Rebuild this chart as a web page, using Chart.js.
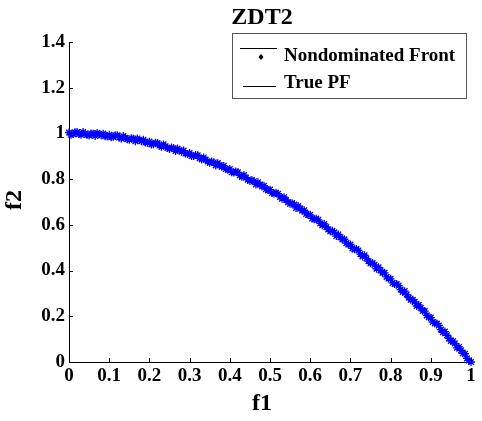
<!DOCTYPE html>
<html><head><meta charset="utf-8">
<script src="https://cdn.jsdelivr.net/npm/chart.js@4.4.1/dist/chart.umd.min.js"></script>
<style>html,body{margin:0;padding:0;background:#fff}#wrap{width:482px;height:421px;position:relative}</style>
</head><body><div id="wrap"><canvas id="c" width="482" height="421"></canvas></div>
<script>
const chartTitle = 'ZDT2';
const xAxisTitle = 'f1';
const yAxisTitle = 'f2';
const seriesNames = ['Nondominated Front', 'True PF'];
const xTickValues = [0, 0.1, 0.2, 0.3, 0.4, 0.5, 0.6, 0.7, 0.8, 0.9, 1];
const xTickLabels = ['0', '0.1', '0.2', '0.3', '0.4', '0.5', '0.6', '0.7', '0.8', '0.9', '1'];
const yTickValues = [0, 0.2, 0.4, 0.6, 0.8, 1, 1.2, 1.4];
const yTickLabels = ['0', '0.2', '0.4', '0.6', '0.8', '1', '1.2', '1.4'];

const frontF1 = [0.00,0.01,0.02,0.03,0.04,0.05,0.06,0.07,0.08,0.09,
  0.10,0.11,0.12,0.13,0.14,0.15,0.16,0.17,0.18,0.19,
  0.20,0.21,0.22,0.23,0.24,0.25,0.26,0.27,0.28,0.29,
  0.30,0.31,0.32,0.33,0.34,0.35,0.36,0.37,0.38,0.39,
  0.40,0.41,0.42,0.43,0.44,0.45,0.46,0.47,0.48,0.49,
  0.50,0.51,0.52,0.53,0.54,0.55,0.56,0.57,0.58,0.59,
  0.60,0.61,0.62,0.63,0.64,0.65,0.66,0.67,0.68,0.69,
  0.70,0.71,0.72,0.73,0.74,0.75,0.76,0.77,0.78,0.79,
  0.80,0.81,0.82,0.83,0.84,0.85,0.86,0.87,0.88,0.89,
  0.90,0.91,0.92,0.93,0.94,0.95,0.96,0.97,0.98,0.99,1.00,
  0.005,0.015,0.025,0.035,0.045,0.055,0.065,0.075,0.085,0.095,
  0.105,0.115,0.125,0.135,0.145,0.155,0.165,0.175,0.185,0.195,
  0.205,0.215,0.225,0.235,0.245,0.255,0.265,0.275,0.285,0.295,
  0.305,0.315,0.325,0.335,0.345,0.355,0.365,0.375,0.385,0.395,
  0.405,0.415,0.425,0.435,0.445,0.455,0.465,0.475,0.485,0.495,
  0.505,0.515,0.525,0.535,0.545,0.555,0.565,0.575,0.585,0.595,
  0.605,0.615,0.625,0.635,0.645,0.655,0.665,0.675,0.685,0.695,
  0.705,0.715,0.725,0.735,0.745,0.755,0.765,0.775,0.785,0.795,
  0.805,0.815,0.825,0.835,0.845,0.855,0.865,0.875,0.885,0.895,
  0.905,0.915,0.925,0.935,0.945,0.955,0.965,0.975,0.985,0.995];
const frontF2 = [1.004,0.997,1.006,0.994,0.999,0.991,0.999,1.002,0.992,0.988,
  0.994,0.985,0.992,0.978,0.981,0.972,0.977,0.978,0.966,0.960,
  0.964,0.953,0.958,0.942,0.944,0.932,0.935,0.934,0.920,0.912,
  0.914,0.901,0.904,0.886,0.885,0.872,0.873,0.870,0.854,0.844,
  0.844,0.829,0.830,0.810,0.807,0.792,0.791,0.786,0.768,0.756,
  0.754,0.737,0.736,0.714,0.709,0.692,0.689,0.682,0.662,0.648,
  0.644,0.625,0.622,0.598,0.591,0.572,0.567,0.558,0.536,0.520,
  0.514,0.493,0.488,0.462,0.453,0.432,0.425,0.414,0.390,0.372,
  0.364,0.341,0.334,0.306,0.295,0.272,0.263,0.250,0.224,0.204,
  0.194,0.169,0.160,0.130,0.117,0.092,0.081,0.066,0.038,0.016,0.000,
  0.994,1.005,0.997,1.006,0.994,1.000,0.989,0.996,0.999,0.988,
  0.983,0.992,0.982,0.989,0.975,0.979,0.966,0.971,0.972,0.959,
  0.952,0.959,0.947,0.952,0.936,0.938,0.923,0.926,0.925,0.910,
  0.901,0.906,0.892,0.895,0.877,0.877,0.860,0.861,0.858,0.841,
  0.830,0.833,0.817,0.818,0.798,0.796,0.777,0.776,0.771,0.752,
  0.739,0.740,0.722,0.721,0.699,0.695,0.674,0.671,0.664,0.643,
  0.628,0.627,0.607,0.604,0.580,0.574,0.551,0.546,0.537,0.514,
  0.497,0.494,0.472,0.467,0.441,0.433,0.408,0.401,0.390,0.365,
  0.346,0.341,0.317,0.310,0.282,0.272,0.245,0.236,0.223,0.196,
  0.175,0.168,0.142,0.133,0.103,0.091,0.062,0.051,0.036,0.007];

const truePfF1 = [0,0.05,0.1,0.15,0.2,0.25,0.3,0.35,0.4,0.45,0.5,0.55,0.6,0.65,0.7,0.75,0.8,0.85,0.9,0.95,1];
const truePfF2 = [1,0.9975,0.99,0.9775,0.96,0.9375,0.91,0.8775,0.84,0.7975,0.75,0.6975,0.64,0.5775,0.51,0.4375,0.36,0.2775,0.19,0.0975,0];

const FONT = "'Liberation Serif', 'Times New Roman', serif";
const tickFont = {family: FONT, size: 19, weight: 'bold'};

const overlay = {
  id: 'overlay',
  afterDraw(chart) {
    const ctx = chart.ctx;
    const xs = chart.scales.x, ys = chart.scales.y;
    const a = chart.chartArea;
    ctx.save();
    ctx.strokeStyle = '#000';
    ctx.lineWidth = 1;
    ctx.beginPath();
    xTickValues.forEach(v => {
      const px = Math.round(xs.getPixelForValue(v)) + 0.5;
      ctx.moveTo(px, a.bottom); ctx.lineTo(px, a.bottom - 4);
    });
    yTickValues.forEach(v => {
      const py = Math.round(ys.getPixelForValue(v)) + 0.5;
      ctx.moveTo(a.left, py); ctx.lineTo(a.left + 4, py);
    });
    ctx.stroke();

    ctx.fillStyle = '#000';
    ctx.textAlign = 'center';
    ctx.textBaseline = 'middle';
    ctx.font = "bold 24px " + FONT;
    ctx.fillText(chartTitle, 262, 18);
    ctx.fillText(xAxisTitle, 262, 404);
    ctx.save();
    ctx.translate(15, 200);
    ctx.rotate(-Math.PI / 2);
    ctx.fillText(yAxisTitle, 0, 0);
    ctx.restore();

    // legend
    ctx.fillStyle = '#fff';
    ctx.fillRect(232, 33, 234, 65);
    ctx.strokeStyle = '#555';
    ctx.strokeRect(232.5, 33.5, 234, 65);
    ctx.strokeStyle = '#000';
    ctx.beginPath();
    ctx.moveTo(240, 48.5); ctx.lineTo(277, 48.5);
    ctx.moveTo(243, 86.5); ctx.lineTo(276, 86.5);
    ctx.stroke();
    ctx.fillStyle = '#000';
    ctx.beginPath();
    ctx.moveTo(261, 54); ctx.lineTo(263.5, 57); ctx.lineTo(261, 60); ctx.lineTo(258.5, 57); ctx.closePath();
    ctx.fill();
    ctx.textAlign = 'left';
    ctx.font = "bold 19px " + FONT;
    ctx.fillText(seriesNames[0], 284, 56);
    ctx.fillText(seriesNames[1], 284, 83);
    ctx.restore();
  }
};

new Chart(document.getElementById('c'), {
  type: 'scatter',
  data: {
    datasets: [
      {
        label: seriesNames[1],
        data: truePfF1.map((x, i) => ({x, y: truePfF2[i]})),
        showLine: true,
        borderColor: '#0000ff',
        borderWidth: 1,
        pointRadius: 0,
        clip: false,
        order: 2
      },
      {
        label: seriesNames[0],
        data: frontF1.map((x, i) => ({x, y: frontF2[i]})),
        pointStyle: 'star',
        pointRadius: 4,
        borderColor: '#0000ff',
        backgroundColor: '#0000ff',
        borderWidth: 1.3,
        clip: false,
        order: 1
      }
    ]
  },
  options: {
    responsive: false,
    animation: false,
    devicePixelRatio: 1,
    layout: {padding: {left: 0, right: 11, top: 42, bottom: 0}},
    plugins: {legend: {display: false}, title: {display: false}, tooltip: {enabled: false}},
    scales: {
      x: {
        type: 'linear', min: 0, max: 1,
        afterBuildTicks: s => { s.ticks = xTickValues.map(v => ({value: v})); },
        afterFit: s => { s.height = 59; },
        ticks: {callback: (v, i) => xTickLabels[i], font: tickFont, color: '#000', padding: 3, maxRotation: 0, autoSkip: false},
        grid: {display: true, drawOnChartArea: false, drawTicks: false},
        border: {display: true, color: '#000', width: 1, dash: [10, 30], dashOffset: 25}
      },
      y: {
        type: 'linear', min: 0, max: 1.4,
        afterBuildTicks: s => { s.ticks = yTickValues.map(v => ({value: v})); },
        afterFit: s => { s.width = 69; },
        ticks: {callback: (v, i) => yTickLabels[i], font: tickFont, color: '#000', padding: 4, autoSkip: false},
        grid: {display: true, drawOnChartArea: false, drawTicks: false},
        border: {display: true, color: '#000', width: 1}
      }
    }
  },
  plugins: [overlay]
});
</script>
</body></html>
